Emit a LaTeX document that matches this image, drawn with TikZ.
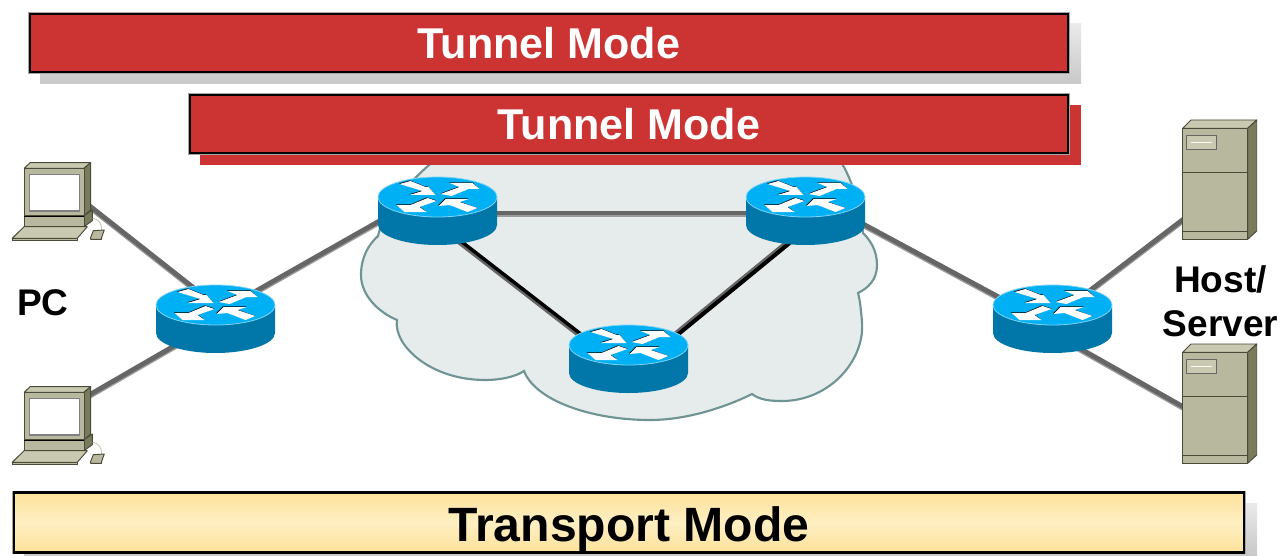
\documentclass[tikz,border=0pt]{standalone}
\usepackage{fontspec}
\setmainfont{Liberation Sans}
\definecolor{tred}{HTML}{CC3333}
\definecolor{shtop}{HTML}{EAEAEA}
\definecolor{shbot}{HTML}{C8C8C8}
\definecolor{yelA}{HTML}{FEE29C}
\definecolor{yelB}{HTML}{FEEFC2}
\definecolor{cloudf}{HTML}{E6ECEC}
\definecolor{cloudl}{HTML}{6F9494}
\definecolor{rtop}{HTML}{00B0F5}
\definecolor{rside}{HTML}{0077A8}
\definecolor{rrim}{HTML}{80D4F5}
\definecolor{linkd}{HTML}{666666}
\definecolor{linkl}{HTML}{9C9C9C}
\definecolor{bfront}{HTML}{B8B89E}
\definecolor{bside}{HTML}{7A7A5C}
\definecolor{btop}{HTML}{C9C9B2}
\definecolor{bline}{HTML}{4A4A38}
\def\px{0.75pt}
\tikzset{
  x=0.75pt, y=-0.75pt,
  holder/.style={inner sep=0pt, outer sep=0pt, minimum width=#1*0.75pt},
  banner/.style={draw=black, line width=2.2pt, preaction={draw=gray!70, line width=3.2pt}, font=\bfseries\fontsize{32.3}{36}\selectfont, text=white, fill=tred, inner sep=0pt, text height=23pt, text depth=0pt},
  lbl/.style={font=\bfseries\fontsize{27.8}{33}\selectfont, inner sep=0pt, anchor=base, align=center},
  link/.style={draw=linkd, line width=3.6pt, preaction={draw=linkl, line width=3.6pt, transform canvas={yshift=-1.2pt}}},
  linkblkA/.style={draw=black, line width=2.6pt, preaction={draw=linkd, line width=3pt, transform canvas={xshift=-1.3pt,yshift=-1.1pt}}},
  linkblkB/.style={draw=black, line width=3pt, preaction={draw=linkd, line width=3.2pt, transform canvas={xshift=-1.4pt,yshift=1.1pt}}},
  boxface/.style={draw=bline, line width=0.7pt, line join=round},
  pics/ciscorouter/.style={code={
    \fill[rside] (-59.5,0) -- (-59.5,28) .. controls (-59.5,39) and (-32.7,48) .. (0,48) .. controls (32.7,48) and (59.5,39) .. (59.5,28) -- (59.5,0) -- cycle;
    \path[fill=rtop, draw=rrim, line width=0.6pt] (-59.5,0) .. controls (-59.5,-11) and (-32.7,-20) .. (0,-20) .. controls (32.7,-20) and (59.5,-11) .. (59.5,0) .. controls (59.5,11) and (32.7,20) .. (0,20) .. controls (-32.7,20) and (-59.5,11) .. (-59.5,0) -- cycle;
    \fill[black] (-38.6,-13.6)--(-27.6,-16.6)--(-12.6,-10.6)--(-9.6,-10.6)--(-2.6,-2.6)--(-28.6,-2.6)--(-15.6,-6.6)--cycle;
    \fill[black] (3,-3.6)--(22,-10.6)--(11.4,-14.6)--(35,-14.6)--(41.4,-8.6)--(31,-8.6)--(14,-1.6)--cycle;
    \fill[black] (-10.6,0.4)--(-1,3.4)--(-18,9.4)--(-11.6,14.4)--(-33,14.4)--(-41.6,7.4)--(-27,7.4)--cycle;
    \fill[black] (0.4,8.4)--(7.4,1.4)--(31,1.4)--(21.4,4.4)--(40,11)--(30,14.4)--(12,7.4)--cycle;
    \fill[white] (-38,-13)--(-27,-16)--(-12,-10)--(-9,-10)--(-2,-2)--(-28,-2)--(-15,-6)--cycle;
    \fill[white] (3,-3)--(22,-10)--(12,-14)--(35,-14)--(42,-8)--(31,-8)--(14,-1)--cycle;
    \fill[white] (-10,1)--(-1,4)--(-18,10)--(-11,15)--(-33,15)--(-41,8)--(-27,8)--cycle;
    \fill[white] (1,9)--(8,2)--(31,2)--(22,5)--(40,11)--(30,15)--(12,8)--cycle;
  }},
  pics/ciscopc/.style={code={
    \path[boxface, fill=btop] (24.3,6.3) -- (30,0.7) -- (90.7,0.7) -- (84,6.3) -- cycle;
    \path[boxface, fill=bside] (84,6.3) -- (90.7,0.7) -- (90.7,48) -- (84,53.7) -- cycle;
    \path[boxface, fill=bfront] (24.3,6.3) rectangle (84,53.7);
    \path[draw=gray, line width=0.9pt, fill=white] (29.3,12.3) rectangle (79.3,49);
    \path[boxface, fill=bside] (84,53.7) -- (92.3,48) -- (92.3,58.7) -- (84,64.7) -- cycle;
    \path[boxface, fill=bfront] (24.3,54.7) rectangle (84,64.7);
    \draw[black, line width=0.9pt] (24.3,54.2) -- (84,54.2);
    \draw[btop, line width=0.7pt] (92.7,56.3) .. controls (98,57) and (102,61) .. (101.7,68);
    \path[boxface, fill=bfront] (12.3,76.3) -- (12.3,78.7) -- (77.3,78.7) -- (77.3,76.3) -- cycle;
    \path[boxface, fill=btop] (12.3,76.3) -- (24,64.7) -- (87.3,64.7) -- (77.3,76.3) -- cycle;
    \path[boxface, fill=bfront] (90.7,75.3) -- (93.3,68.7) -- (104.3,68) -- (101.7,75.3) -- (101.7,77.3) -- (90.7,77.3) -- cycle;
  }},
  pics/ciscoserver/.style={code={
    \path[boxface, fill=btop] (0.7,8.3) -- (9,0) -- (74.7,0) -- (65.7,8.3) -- cycle;
    \path[boxface, fill=bside] (65.7,8.3) -- (74.7,0) -- (74.7,111) -- (65.7,119.3) -- cycle;
    \path[boxface, fill=bfront] (0.7,8.3) rectangle (65.7,119.3);
    \draw[bline, line width=0.7pt] (0.7,52.3) -- (65.7,52.3);
    \draw[bline, line width=0.7pt] (0.7,111.7) -- (65.7,111.7);
    \path[draw=gray!80!black, line width=0.5pt, fill=btop] (4.7,15) rectangle (34,29.3);
    \draw[white!90!btop, line width=0.7pt] (8.7,22.7) -- (30,22.7);
  }}
}
\begin{document}
\begin{tikzpicture}
\useasboundingbox (0,0) rectangle (1281,556);
% cloud
\path[fill=cloudf, draw=cloudl, line width=1.6pt, line join=miter]
  (435,160) .. controls (420,172) and (385,205) .. (378,236)
  .. controls (368,245) and (361,258) .. (361,275)
  .. controls (361,295) and (378,312) .. (397,320)
  .. controls (393,345) and (430,380) .. (485,380)
  .. controls (500,380) and (515,377) .. (524,371)
  .. controls (535,400) and (590,420) .. (650,420)
  .. controls (690,420) and (730,405) .. (752,394)
  .. controls (760,400) and (770,401) .. (782,401)
  .. controls (830,401) and (865,360) .. (862,322)
  .. controls (861,310) and (860,300) .. (858,293)
  .. controls (868,288) and (877,280) .. (877,265)
  .. controls (877,250) and (870,240) .. (863,233)
  .. controls (860,210) and (855,185) .. (840,160) -- cycle;
% nodes that hold the devices
\node[holder=119, minimum height=51pt] (r0) at (215.5,319) {};
\node[holder=119, minimum height=51pt] (r1) at (437.5,211) {};
\node[holder=119, minimum height=51pt] (r2) at (805.5,211) {};
\node[holder=119, minimum height=51pt] (r3) at (628.5,359) {};
\node[holder=119, minimum height=51pt] (r4) at (1052.5,319) {};
\node[holder=93, minimum height=59pt] (pc1) at (58,201) {};
\node[holder=93, minimum height=59pt] (pc2) at (58,425) {};
\node[holder=75, minimum height=90pt] (srv1) at (1219,180) {};
\node[holder=75, minimum height=90pt] (srv2) at (1219,404) {};
% connectors
\draw[link] ([yshift=20*\px]pc1.center) -- ([yshift=14*\px]r0.center);
\draw[link] ([yshift=12*\px]pc2.center) -- ([yshift=-3*\px]r0.center);
\draw[link] ([yshift=5*\px]r0.center) -- ([yshift=23*\px]r1.center);
\draw[link] ([yshift=-2*\px]r1.center) -- ([yshift=-2*\px]r2.center);
\draw[linkblkA] ([yshift=-12*\px]r1.center) -- ([yshift=-12*\px]r3.center);
\draw[linkblkB] ([yshift=-19*\px]r2.center) -- ([yshift=-16*\px]r3.center);
\draw[link] ([yshift=18*\px]r2.center) -- ([yshift=-7*\px]r4.center);
\draw[link] (r4.center) -- ([yshift=-12*\px]srv1.center);
\draw[link] ([yshift=-14*\px]r4.center) -- ([yshift=-23*\px]srv2.center);
% devices
\pic at (215.5,305) {ciscorouter};
\pic at (437.5,197) {ciscorouter};
\pic at (805.5,197) {ciscorouter};
\pic at (628.5,345) {ciscorouter};
\pic at (1052.5,305) {ciscorouter};
\pic at (0,162) {ciscopc};
\pic at (0,386) {ciscopc};
\pic at (1182,120) {ciscoserver};
\pic at (1182,344) {ciscoserver};
% banners
\shade[top color=shtop, bottom color=shbot] (40,24) rectangle (1081,84);
\node[banner, minimum width=778.5pt, minimum height=43.5pt] (tm1) at (549,43) {Tunnel Mode};
\fill[tred] (200,105) rectangle (1081,165);
\node[banner, minimum width=658.5pt, minimum height=43.5pt] (tm2) at (629,124) {Tunnel Mode};
\shade[top color=shtop, bottom color=shbot] (24,503) rectangle (1257,556);
\node[banner, text=black, minimum width=922.5pt, minimum height=44.5pt, font=\bfseries\fontsize{36.1}{40}\selectfont, top color=yelA, bottom color=yelA, middle color=yelB, text height=29pt] (trm) at (629,522.5) {Transport Mode};
% labels
\node[lbl] (pclbl) at (43,315) {PC};
\node[lbl] (hostlbl) at (1220.5,292) {Host/};
\node[lbl] (srvlbl) at (1220.5,336) {Server};
\end{tikzpicture}
\end{document}
